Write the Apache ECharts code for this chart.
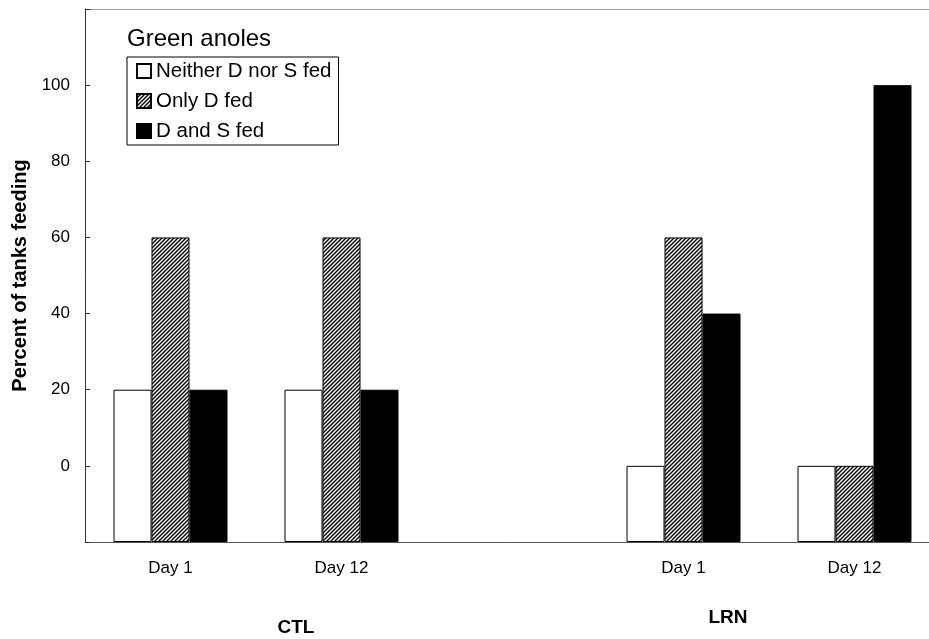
<!DOCTYPE html>
<html>
<head>
<meta charset="utf-8">
<script src="https://cdn.jsdelivr.net/npm/echarts@6/dist/echarts.min.js"></script>
<style>
  html, body { margin: 0; padding: 0; background: #fff; }
  #chart { width: 929px; height: 639px; }
</style>
</head>
<body>
<div id="chart"></div>
<script>
// 数据
const categories = ['Day 1', 'Day 12', '', 'Day 1', 'Day 12'];
const neitherFed = [20, 20, null, 0, 0];
const onlyDFed = [60, 60, null, 60, 0];
const bothFed = [20, 20, null, 40, 100];
const yTicks = [0, 20, 40, 60, 80, 100];
const groupNames = ['CTL', 'LRN'];
// bars in the picture stand on the bottom of the axis (-20), not on 0
const AXIS_FLOOR = -20;
const AXIS_TOP = 120;

const FONT = '"Liberation Sans", Arial, sans-serif';

// 斜线填充
function hatch() {
  const c = document.createElement('canvas');
  c.width = 4; c.height = 4;
  const ctx = c.getContext('2d');
  ctx.fillStyle = '#fff';
  ctx.fillRect(0, 0, 4, 4);
  ctx.strokeStyle = '#000';
  ctx.lineWidth = 1.4;
  ctx.beginPath();
  ctx.moveTo(-1, 5); ctx.lineTo(5, -1);
  ctx.moveTo(-1, 1); ctx.lineTo(1, -1);
  ctx.moveTo(3, 5); ctx.lineTo(5, 3);
  ctx.stroke();
  return c;
}

function lift(arr) {
  return arr.map(v => v === null ? null : v - AXIS_FLOOR);
}

const chart = echarts.init(document.getElementById('chart'));
chart.setOption({
  animation: false,
  backgroundColor: '#fff',
  textStyle: { fontFamily: FONT },
  title: {
    text: 'Green anoles',
    left: 127,
    top: 27,
    padding: 0,
    textStyle: { fontSize: 24, fontWeight: 'normal', color: '#000', fontFamily: FONT }
  },
  legend: {
    left: 127,
    top: 57,
    orient: 'vertical',
    icon: 'rect',
    itemWidth: 14,
    itemHeight: 14,
    itemGap: 8,
    padding: [3, 7, 3, 9],
    borderColor: '#000',
    borderWidth: 1,
    textStyle: { fontSize: 20.5, color: '#000', fontFamily: FONT, lineHeight: 22, padding: [0, 0, 0, 0] },
    data: ['Neither D nor S fed', 'Only D fed', 'D and S fed']
  },
  // the plot runs a little past the right edge of the picture
  grid: {
    left: 85,
    width: 855,
    top: 9,
    bottom: 97,
    containLabel: false,
    outerBoundsMode: 'none'
  },
  xAxis: [{
    type: 'category',
    data: categories,
    axisLine: { lineStyle: { color: '#555', width: 1 } },
    axisTick: { show: false },
    axisLabel: { color: '#000', fontSize: 17, margin: 18, fontFamily: FONT }
  }, {
    type: 'category',
    position: 'top',
    data: categories,
    axisLine: { lineStyle: { color: '#999', width: 1 } },
    axisTick: { show: false },
    axisLabel: { show: false }
  }],
  yAxis: {
    type: 'value',
    min: 0,
    max: AXIS_TOP - AXIS_FLOOR,
    interval: 20,
    name: 'Percent of tanks feeding',
    nameLocation: 'middle',
    nameGap: 53,
    nameTextStyle: { fontSize: 20, fontWeight: 'bold', color: '#000', fontFamily: FONT },
    axisLine: { show: true, lineStyle: { color: '#333', width: 1 } },
    axisTick: { show: true, inside: true, length: 5, lineStyle: { color: '#333' } },
    splitLine: { show: false },
    axisLabel: {
      color: '#000',
      fontSize: 17,
      margin: 15,
      fontFamily: FONT,
      formatter: function (v) {
        const real = v + AXIS_FLOOR;
        return yTicks.indexOf(real) >= 0 ? String(real) : '';
      }
    }
  },
  series: [{
    name: 'Neither D nor S fed',
    type: 'bar',
    barWidth: 38,
    barGap: '0%',
    data: lift(neitherFed),
    itemStyle: { color: '#fff', borderColor: '#000', borderWidth: 1 }
  }, {
    name: 'Only D fed',
    type: 'bar',
    barWidth: 38,
    barGap: '0%',
    data: lift(onlyDFed),
    itemStyle: { color: { image: hatch(), repeat: 'repeat' }, borderColor: '#000', borderWidth: 1 }
  }, {
    name: 'D and S fed',
    type: 'bar',
    barWidth: 38,
    barGap: '0%',
    data: lift(bothFed),
    itemStyle: { color: '#000', borderColor: '#000', borderWidth: 1 }
  }],
  graphic: [{
    type: 'text',
    x: 296,
    y: 628,
    style: {
      text: groupNames[0],
      font: 'bold 19px ' + FONT,
      fill: '#000',
      align: 'center',
      verticalAlign: 'middle'
    }
  }, {
    type: 'text',
    x: 728,
    y: 618,
    style: {
      text: groupNames[1],
      font: 'bold 19px ' + FONT,
      fill: '#000',
      align: 'center',
      verticalAlign: 'middle'
    }
  }]
});
</script>
</body>
</html>
